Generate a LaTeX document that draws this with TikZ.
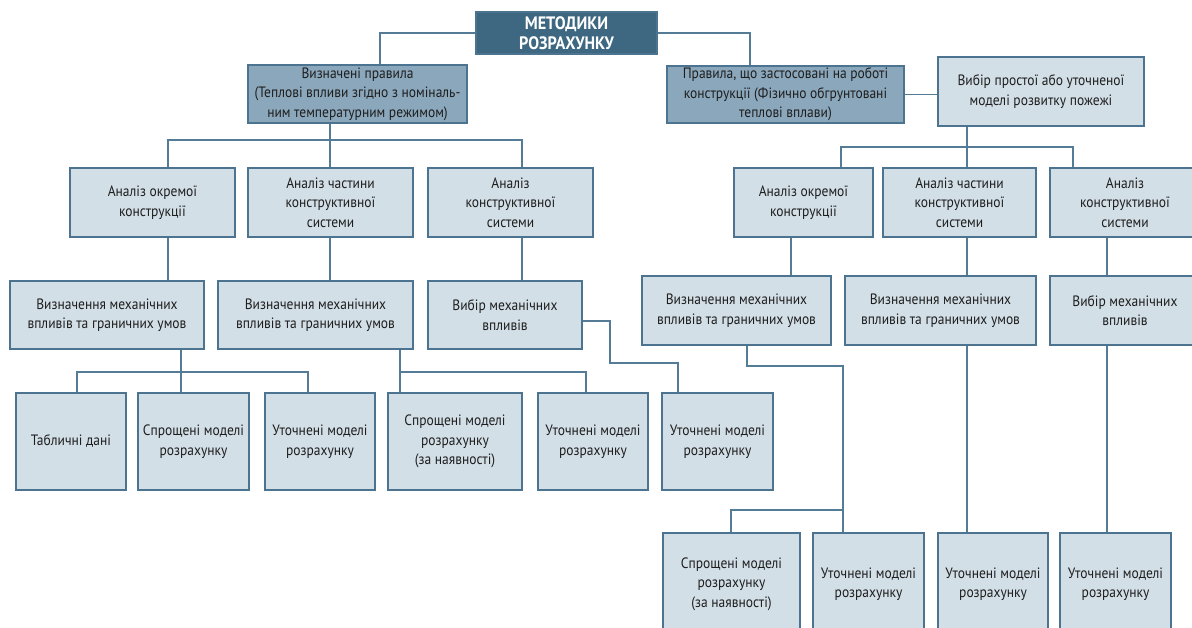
\documentclass[tikz,border=0pt]{standalone}
\usepackage{fontspec}
\setmainfont{PT Sans}[FakeStretch=0.9]
\definecolor{boxdark}{HTML}{3E6882}
\definecolor{boxmid}{HTML}{8BA7BB}
\definecolor{boxlight}{HTML}{D3DFE7}
\definecolor{boxline}{HTML}{4C7490}
\definecolor{linec}{HTML}{557C96}
\definecolor{textc}{HTML}{1E1E1E}
\tikzset{
  box/.style={draw=boxline, line width=1.4pt, fill=boxlight, align=center,
    inner sep=2pt, text=textc, font=\fontsize{15}{19.5}\selectfont},
  rulebox/.style={box, fill=boxmid},
  headbox/.style={box, fill=boxdark, text=white,
    font=\fontsize{18}{19.5}\selectfont\bfseries},
  link/.style={draw=linec, line width=1.4pt},
}
\begin{document}
\begin{tikzpicture}[x=1pt,y=-1pt]
\clip (0,0) rectangle (1192,627);

% top levels
\node[headbox, minimum width=181pt, minimum height=42pt] (top) at (566.5,33) {МЕТОДИКИ\\РОЗРАХУНКУ};
\node[rulebox, minimum width=219pt, minimum height=58pt] (vp) at (357.5,94) {Визначені правила\\(Теплові впливи згідно з номіналь-\\ним температурним режимом)};
\node[rulebox, minimum width=237pt, minimum height=57pt] (pr) at (785.5,94.5) {Правила, що застосовані на роботі\\конструкції (Фізично обгрунтовані\\теплові вплави)};
\node[box, minimum width=206pt, minimum height=69pt] (vb) at (1041,91.5) {Вибір простої або уточненої\\моделі розвитку пожежі};

% left: analysis
\node[box, minimum width=165pt, minimum height=69pt] (a1) at (152.5,202.5) {Аналіз окремої\\конструкції};
\node[box, minimum width=165pt, minimum height=69pt] (a2) at (330.5,202.5) {Аналіз частини\\конструктивної\\системи};
\node[box, minimum width=165pt, minimum height=69pt] (a3) at (510.5,202.5) {Аналіз\\конструктивної\\системи};

% left: mechanical actions
\node[box, minimum width=194pt, minimum height=68pt] (m1) at (107,315) {Визначення механічних\\впливів та граничних умов};
\node[box, minimum width=195pt, minimum height=68pt] (m2) at (315.5,315) {Визначення механічних\\впливів та граничних умов};
\node[box, minimum width=154pt, minimum height=68pt] (m3) at (505,315) {Вибір механічних\\впливів};

% left: models
\node[box, minimum width=110pt, minimum height=97pt] (c1) at (71,441.5) {Табличні дані};
\node[box, minimum width=111pt, minimum height=97pt] (c2) at (193.5,441.5) {Спрощені моделі\\розрахунку};
\node[box, minimum width=110pt, minimum height=97pt] (c3) at (320,441.5) {Уточнені моделі\\розрахунку};
\node[box, minimum width=134pt, minimum height=97pt] (c4) at (455,441.5) {Спрощені моделі\\розрахунку\\(за наявності)};
\node[box, minimum width=110pt, minimum height=97pt] (c5) at (593,441.5) {Уточнені моделі\\розрахунку};
\node[box, minimum width=111pt, minimum height=97pt] (c6) at (717.5,441.5) {Уточнені моделі\\розрахунку};

% right: analysis
\node[box, minimum width=139pt, minimum height=69pt] (d1) at (803.5,202.5) {Аналіз окремої\\конструкції};
\node[box, minimum width=153pt, minimum height=69pt] (d2) at (959.5,202.5) {Аналіз частини\\конструктивної\\системи};
\node[box, minimum width=150pt, minimum height=69pt] (d3) at (1125,202.5) {Аналіз\\конструктивної\\системи};

% right: mechanical actions
\node[box, minimum width=189pt, minimum height=69pt] (e1) at (736.5,310.5) {Визначення механічних\\впливів та граничних умов};
\node[box, minimum width=191pt, minimum height=69pt] (e2) at (940.5,310.5) {Визначення механічних\\впливів та граничних умов};
\node[box, minimum width=150pt, minimum height=69pt] (e3) at (1125,310.5) {Вибір механічних\\впливів};

% right: models
\node[box, minimum width=137pt, minimum height=102pt] (f1) at (731.5,584) {Спрощені моделі\\розрахунку\\(за наявності)};
\node[box, minimum width=111pt, minimum height=102pt] (f2) at (868.5,584) {Уточнені моделі\\розрахунку};
\node[box, minimum width=110pt, minimum height=102pt] (f3) at (993,584) {Уточнені моделі\\розрахунку};
\node[box, minimum width=111pt, minimum height=102pt] (f4) at (1115.5,584) {Уточнені моделі\\розрахунку};

% branch points
\coordinate (t1) at (380,33);
\coordinate (t2) at (750,33);
\coordinate (l1) at (168,140);
\coordinate (l2) at (330,140);
\coordinate (l3) at (522,140);
\coordinate (r1) at (841,147);
\coordinate (r2) at (967,147);
\coordinate (r3) at (1073,147);
\coordinate (p1) at (77,372);
\coordinate (p2) at (181,372);
\coordinate (p3) at (308,372);
\coordinate (q1) at (400,372);
\coordinate (q2) at (586,372);
\coordinate (s1) at (610,363);
\coordinate (s2) at (678,363);
\coordinate (u1) at (747,366);
\coordinate (u2) at (843,366);
\coordinate (w1) at (731,510);
\coordinate (w2) at (843,510);

% connectors
\draw[link] (top.west) -| (vp.north -| t1);
\draw[link] (top.east) -| (pr.north -| t2);
\draw[link] (pr.east) -- (pr.east -| vb.west);

\draw[link] (vp.south -| l2) -- (a2.north -| l2);
\draw[link] (a1.north -| l1) |- (l3) -- (a3.north -| l3);
\draw[link] (a1.south -| l1) -- (m1.north -| l1);
\draw[link] (a2.south -| l2) -- (m2.north -| l2);
\draw[link] (a3.south -| l3) -- (m3.north -| l3);

\draw[link] (m1.south -| p2) -- (c2.north -| p2);
\draw[link] (c1.north -| p1) |- (p3) -- (c3.north -| p3);
\draw[link] (m2.south -| q1) -- (c4.north -| q1);
\draw[link] (q1) -| (c5.north -| q2);
\draw[link] (m3.east |- 0,321) -| (s1) -| (c6.north -| s2);

\draw[link] (vb.south -| r2) -- (d2.north -| r2);
\draw[link] (d1.north -| r1) |- (r3) -- (d3.north -| r3);
\draw[link] (d1.south -| 791,0) -- (e1.north -| 791,0);
\draw[link] (d2.south -| r2) -- (e2.north -| r2);
\draw[link] (d3.south -| 1107,0) -- (e3.north -| 1107,0);

\draw[link] (e1.south -| u1) -- (u1) -| (f2.north -| u2);
\draw[link] (w2) -| (f1.north -| w1);
\draw[link] (e2.south -| r2) -- (f3.north -| r2);
\draw[link] (e3.south -| 1107,0) -- (f4.north -| 1107,0);
\end{tikzpicture}
\end{document}
